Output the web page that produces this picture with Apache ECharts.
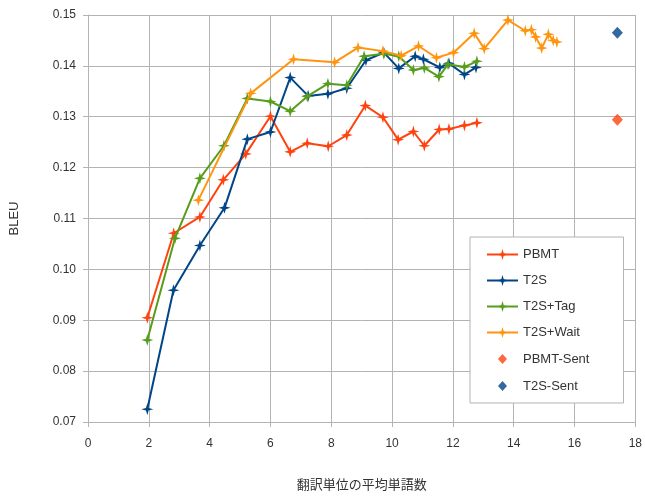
<!DOCTYPE html>
<html>
<head>
<meta charset="utf-8">
<script src="https://cdn.jsdelivr.net/npm/echarts@6/dist/echarts.min.js"></script>
<style>
  html, body { margin: 0; padding: 0; background: #fff; overflow: hidden; }
  #chart { width: 645px; height: 496px; }
</style>
</head>
<body>
<div id="chart"></div>
<script>
// 系列数据 (翻訳単位の平均単語数, BLEU)
var pbmtX = [1.95, 2.82, 3.68, 4.45, 5.19, 6.0, 6.65, 7.21, 7.9, 8.51, 9.12, 9.7, 10.2, 10.7, 11.06, 11.55, 11.87, 12.38, 12.79];
var pbmtY = [0.0905, 0.1071, 0.1103, 0.1176, 0.1227, 0.1301, 0.1231, 0.1248, 0.1242, 0.1264, 0.1322, 0.1299, 0.1255, 0.1271, 0.1243, 0.1275, 0.1276, 0.1283, 0.1288];

var t2sX = [1.95, 2.81, 3.68, 4.49, 5.24, 6.0, 6.65, 7.24, 7.89, 8.51, 9.14, 9.73, 10.22, 10.76, 11.03, 11.57, 11.87, 12.38, 12.76];
var t2sY = [0.0725, 0.0959, 0.1047, 0.1121, 0.1256, 0.1270, 0.1377, 0.1341, 0.1345, 0.1356, 0.1411, 0.1426, 0.1395, 0.1419, 0.1413, 0.1397, 0.1405, 0.1383, 0.1397];

var tagX = [1.95, 2.86, 3.68, 4.47, 5.24, 6.0, 6.65, 7.21, 7.89, 8.51, 9.08, 9.73, 10.22, 10.7, 11.06, 11.54, 11.84, 12.38, 12.79];
var tagY = [0.0861, 0.1061, 0.1179, 0.1243, 0.1336, 0.1330, 0.1311, 0.1340, 0.1365, 0.1362, 0.1419, 0.1424, 0.1419, 0.1392, 0.1396, 0.1379, 0.1403, 0.1398, 0.1409];

var waitX = [3.63, 5.35, 6.76, 8.11, 8.88, 9.7, 10.3, 10.87, 11.46, 12.02, 12.7, 13.03, 13.81, 14.38, 14.58, 14.72, 14.92, 15.14, 15.3, 15.42];
var waitY = [0.1136, 0.1346, 0.1413, 0.1407, 0.1436, 0.1429, 0.1420, 0.1439, 0.1416, 0.1426, 0.1464, 0.1434, 0.1490, 0.1469, 0.1471, 0.1457, 0.1435, 0.1462, 0.1450, 0.1447];

var pbmtSentX = [17.41];
var pbmtSentY = [0.1294];
var t2sSentX = [17.41];
var t2sSentY = [0.1465];

var seriesNames = ['PBMT', 'T2S', 'T2S+Tag', 'T2S+Wait', 'PBMT-Sent', 'T2S-Sent'];
var seriesColors = ['#ff420e', '#004586', '#579d1c', '#ff950e', '#ff420e', '#004586'];

var xTicks = [0, 2, 4, 6, 8, 10, 12, 14, 16, 18];

// 四角星 marker
var starSymbol = 'path://M0,-10 L2.2,-2.2 L10,0 L2.2,2.2 L0,10 L-2.2,2.2 L-10,0 L-2.2,-2.2 Z';
// 图例用的小菱形, 上下留空让它缩小一点
var diamondSymbol = 'path://M0,-5 L4.5,0 L0,5 L-4.5,0 Z M0,-7 L0,-7 Z M0,7 L0,7 Z';

function zip(xs, ys) {
    var out = [];
    for (var i = 0; i < xs.length; i++) {
        out.push([xs[i], ys[i]]);
    }
    return out;
}

var gridColor = '#b3b3b3';
var font = '"Liberation Sans", Arial, sans-serif';

function lineSeries(idx, xs, ys) {
    return {
        name: seriesNames[idx],
        type: 'line',
        data: zip(xs, ys),
        symbol: starSymbol,
        symbolSize: 12,
        showAllSymbol: true,
        lineStyle: { width: 2, color: seriesColors[idx] },
        itemStyle: { color: seriesColors[idx] },
        emphasis: { disabled: true },
        z: 2 + idx
    };
}

function sentSeries(idx, xs, ys) {
    return {
        name: seriesNames[idx],
        type: 'scatter',
        data: zip(xs, ys),
        symbol: 'diamond',
        symbolSize: [11, 12],
        itemStyle: { color: seriesColors[idx] },
        emphasis: { disabled: true }
    };
}

var chart = echarts.init(document.getElementById('chart'), null, { renderer: 'canvas' });

var option = {
    animation: false,
    backgroundColor: '#ffffff',
    textStyle: { fontFamily: font },
    grid: {
        left: 86,
        right: 5,
        top: 15,
        bottom: 60,
        containLabel: false
    },
    xAxis: {
        type: 'value',
        min: xTicks[0],
        max: xTicks[xTicks.length - 1],
        interval: 2,
        name: '翻訳単位の平均単語数',
        nameLocation: 'middle',
        nameGap: 56,
        nameTextStyle: { color: '#333', fontSize: 13, fontFamily: '"Noto Sans CJK JP", sans-serif' },
        axisLine: { show: true, lineStyle: { color: gridColor } },
        axisTick: { show: true, length: 5, lineStyle: { color: gridColor } },
        axisLabel: { color: '#333', fontSize: 12, margin: 16 },
        splitLine: { show: true, lineStyle: { color: gridColor, width: 1 } }
    },
    yAxis: {
        type: 'value',
        min: 0.07,
        max: 0.15,
        interval: 0.01,
        name: 'BLEU',
        nameLocation: 'middle',
        nameGap: 67,
        nameTextStyle: { color: '#333', fontSize: 13 },
        axisLine: { show: true, lineStyle: { color: gridColor } },
        axisTick: { show: true, length: 5, lineStyle: { color: gridColor } },
        axisLabel: {
            color: '#333',
            fontSize: 12,
            margin: 12,
            formatter: function (v) { return v.toFixed(2); }
        },
        splitLine: { show: true, lineStyle: { color: gridColor, width: 1 } }
    },
    legend: {
        orient: 'vertical',
        left: 470,
        top: 237,
        padding: [11, 34, 10, 16],
        itemGap: 13,
        itemWidth: 31,
        itemHeight: 14,
        symbolKeepAspect: true,
        backgroundColor: '#ffffff',
        borderColor: gridColor,
        borderWidth: 1,
        textStyle: { color: '#333', fontSize: 13 },
        data: seriesNames.map(function (n, i) {
            if (i < 4) {
                return { name: n };
            }
            return { name: n, icon: diamondSymbol };
        })
    },
    series: [
        lineSeries(0, pbmtX, pbmtY),
        lineSeries(1, t2sX, t2sY),
        lineSeries(2, tagX, tagY),
        lineSeries(3, waitX, waitY),
        sentSeries(4, pbmtSentX, pbmtSentY),
        sentSeries(5, t2sSentX, t2sSentY)
    ]
};

try {
    chart.setOption(option);
} catch (err) {
    console.error(err);
}
</script>
</body>
</html>
